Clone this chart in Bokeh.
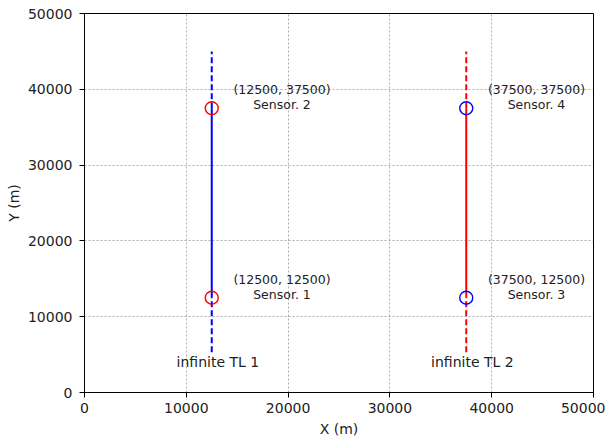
from bokeh.plotting import figure
from bokeh.models import ColumnDataSource, FixedTicker
from bokeh.embed import file_html
from bokeh.resources import INLINE
from bokeh.core.properties import value

# data
tl_x = [12500, 37500]
tl_names = ["infinite TL 1", "infinite TL 2"]
tl_colors = ["blue", "red"]
tl_solid_y = [12500, 37500]
tl_dash_y = [5300, 45000]

sensor_x = [12500, 12500, 37500, 37500]
sensor_y = [12500, 37500, 12500, 37500]
sensor_names = ["Sensor. 1", "Sensor. 2", "Sensor. 3", "Sensor. 4"]
sensor_colors = ["red", "red", "blue", "blue"]

ticks = [0, 10000, 20000, 30000, 40000, 50000]

FONT = "DejaVu Sans"

p = figure(frame_width=509, frame_height=379, min_border_left=84, min_border_top=13,
           min_border_right=12, min_border_bottom=40,
           x_range=(0, 50000), y_range=(0, 50000),
           output_backend="svg", toolbar_location=None)
p.background_fill_color = "white"
p.outline_line_color = "black"
p.outline_line_width = 1

for ax in (p.xaxis, p.yaxis):
    ax.ticker = FixedTicker(ticks=ticks)
    ax.minor_tick_line_color = None
    ax.major_tick_out = 5
    ax.major_tick_in = 0
    ax.axis_line_color = "black"
    ax.major_tick_line_color = "black"
    ax.major_label_text_font = FONT
    ax.major_label_text_font_size = "14px"
    ax.major_label_text_color = "#222222"
    ax.axis_label_text_font = FONT
    ax.axis_label_text_font_size = "14px"
    ax.axis_label_text_font_style = "normal"
    ax.axis_label_text_color = "#222222"
p.xaxis.axis_label = "X (m)"
p.yaxis.axis_label = "Y (m)"
p.yaxis.axis_label_standoff = 3
p.xaxis.axis_label_standoff = 5
p.yaxis.major_label_standoff = 7

for g in (p.xgrid, p.ygrid):
    g.ticker = FixedTicker(ticks=ticks)
    g.grid_line_color = "#9a9a9a"
    g.grid_line_dash = "2 2"
    g.grid_line_width = 0.8

for x, c in zip(tl_x, tl_colors):
    p.multi_line([[x, x], [x, x]],
                 [[tl_dash_y[0], tl_solid_y[0]], [tl_solid_y[1], tl_dash_y[1]]],
                 line_color=c, line_width=2, line_dash="6 3")
    p.line([x, x], tl_solid_y, line_color=c, line_width=2)

src = ColumnDataSource(dict(
    x=sensor_x, y=sensor_y, c=sensor_colors,
    lx=[x + 6900 for x in sensor_x], ly=[y + 1450 for y in sensor_y],
    lab=[f"({x}, {y})\n{n}" for x, y, n in zip(sensor_x, sensor_y, sensor_names)],
))
p.scatter("x", "y", source=src, size=13, fill_color=None, line_color="c", line_width=1.4)
p.text("lx", "ly", text="lab", source=src, text_align="center", text_baseline="middle",
       text_font=value(FONT), text_font_size="12.5px", text_color="#222222", text_line_height=1.03)

tsrc = ColumnDataSource(dict(x=[x + 600 for x in tl_x], y=[tl_dash_y[0] - 200] * 2, t=tl_names))
p.text("x", "y", text="t", source=tsrc, text_align="center", text_baseline="top",
       text_font=value(FONT), text_font_size="14px", text_color="#222222")

open("out.html", "w").write(file_html(p, INLINE))
